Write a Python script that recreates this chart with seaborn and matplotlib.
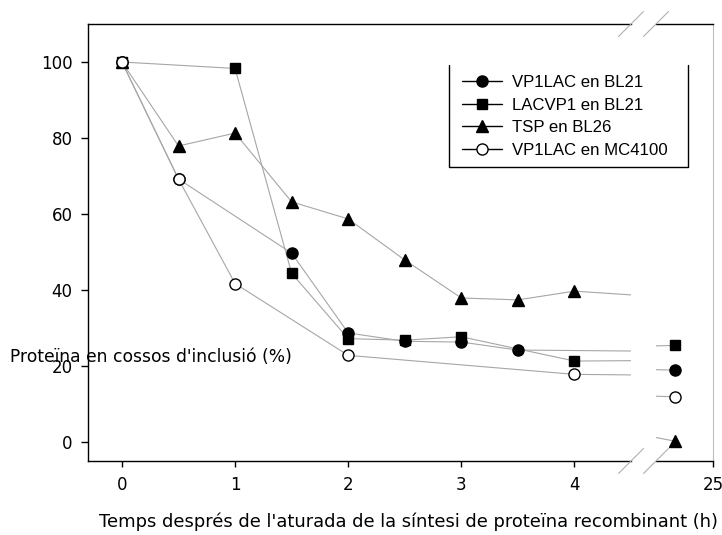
import matplotlib
matplotlib.use("Agg")
import matplotlib.pyplot as plt
from matplotlib.lines import Line2D
import numpy as np
import pandas as pd
import seaborn as sns

# ---- data -------------------------------------------------------------
series_names = ["VP1LAC en BL21", "LACVP1 en BL21", "TSP en BL26", "VP1LAC en MC4100"]

t_vp1lac_bl21 = [0, 0.5, 1.5, 2, 2.5, 3, 3.5, 24]
y_vp1lac_bl21 = [100, 69.2, 49.7, 28.7, 26.5, 26.3, 24.2, 18.9]

t_lacvp1_bl21 = [0, 1, 1.5, 2, 2.5, 3, 4, 24]
y_lacvp1_bl21 = [100, 98.3, 44.4, 27.2, 26.8, 27.7, 21.3, 25.4]

t_tsp_bl26 = [0, 0.5, 1, 1.5, 2, 2.5, 3, 3.5, 4, 24]
y_tsp_bl26 = [100, 77.9, 81.3, 63.2, 58.7, 47.9, 37.9, 37.4, 39.7, 0.2]

t_vp1lac_mc4100 = [0, 0.5, 1, 2, 4, 24]
y_vp1lac_mc4100 = [100, 69.2, 41.7, 22.8, 17.8, 11.9]

x_ticks_left = [0, 1, 2, 3, 4]
x_ticks_right = [25]
y_ticks = [0, 20, 40, 60, 80, 100]

ylabel_text = "Proteïna en cossos d'inclusió (%)"
xlabel_text = "Temps després de l'aturada de la síntesi de proteïna recombinant (h)"

# ---- style ------------------------------------------------------------
sns.set_style("ticks")
plt.rcParams["font.family"] = ["DejaVu Sans"]
plt.rcParams["font.size"] = 12
plt.rcParams["text.color"] = "black"
plt.rcParams["axes.labelcolor"] = "black"
plt.rcParams["xtick.color"] = "black"
plt.rcParams["ytick.color"] = "black"

W, H = 722, 535
fig = plt.figure(figsize=(W / 100, H / 100), dpi=100)


def fx(px):
    return px / W


def fy(py):
    return 1 - py / H


left_px, break_l, break_r, right_px = 88, 631, 656, 713
top_px, bot_px = 24, 461

ax1 = fig.add_axes([fx(left_px), fy(bot_px), fx(break_l - left_px), (bot_px - top_px) / H])
ax2 = fig.add_axes([fx(break_r), fy(bot_px), fx(right_px - break_r), (bot_px - top_px) / H],
                   sharey=ax1)

frames = []
for name, t, y in [(series_names[0], t_vp1lac_bl21, y_vp1lac_bl21),
                   (series_names[1], t_lacvp1_bl21, y_lacvp1_bl21),
                   (series_names[2], t_tsp_bl26, y_tsp_bl26),
                   (series_names[3], t_vp1lac_mc4100, y_vp1lac_mc4100)]:
    frames.append(pd.DataFrame({"serie": name, "temps": t, "proteina": y}))
df = pd.concat(frames, ignore_index=True)

marker_style = {
    series_names[0]: dict(marker="o", mfc="black", ms=8),
    series_names[1]: dict(marker="s", mfc="black", ms=7.2),
    series_names[2]: dict(marker="^", mfc="black", ms=8),
    series_names[3]: dict(marker="o", mfc="white", ms=8),
}

line_grey = "#a6a6a6"
for ax in (ax1, ax2):
    # connecting lines first, markers on top
    for name in series_names:
        sub = df[df["serie"] == name]
        sns.lineplot(data=sub, x="temps", y="proteina", ax=ax, estimator=None,
                     sort=False, color=line_grey, lw=0.8, zorder=2, legend=False)
    for i, name in enumerate(series_names):
        sub = df[df["serie"] == name]
        st = marker_style[name]
        sns.lineplot(data=sub, x="temps", y="proteina", ax=ax, estimator=None,
                     sort=False, linestyle="none", marker=st["marker"],
                     markersize=st["ms"], markerfacecolor=st["mfc"],
                     markeredgecolor="black", markeredgewidth=1.0,
                     zorder=3 + i, legend=False)

ax1.set_xlim(-0.3, 4.5)
ax2.set_xlim(23.5, 25)
ax1.set_ylim(-5, 110)

for ax in (ax1, ax2):
    ax.set_xlabel("")
    ax.set_ylabel("")
    for s in ax.spines.values():
        s.set_linewidth(1.0)
        s.set_color("black")

ax1.spines["right"].set_visible(False)
ax2.spines["left"].set_visible(False)
ax2.spines["right"].set_color("#bdbdbd")
ax2.spines["right"].set_linewidth(0.8)

ax1.set_xticks(x_ticks_left)
ax1.set_xticklabels([str(v) for v in x_ticks_left])
ax1.set_yticks(y_ticks)
ax1.set_yticklabels([str(v) for v in y_ticks])
ax2.set_xticks(x_ticks_right)
ax2.set_xticklabels([str(v) for v in x_ticks_right])
ax2.tick_params(axis="y", left=False, labelleft=False, right=False)

for ax in (ax1, ax2):
    ax.tick_params(axis="x", direction="out", length=4, width=1.0, pad=7,
                   labelsize=12, colors="black")
ax1.tick_params(axis="y", direction="out", length=5, width=1.0, pad=6,
                labelsize=12, colors="black")

# break marks on top and bottom axis lines
for ybp in (top_px, bot_px):
    for xbp in (break_l, break_r):
        fig.add_artist(Line2D([fx(xbp - 12.5), fx(xbp + 12.5)],
                              [fy(ybp + 12.5), fy(ybp - 12.5)],
                              transform=fig.transFigure, color="#b0b0b0", lw=0.8))

# legend (frame drawn as three sides)
handles = [
    Line2D([], [], color="black", lw=1.0, marker="o", ms=8, mfc="black", mec="black"),
    Line2D([], [], color="black", lw=1.0, marker="s", ms=7.2, mfc="black", mec="black"),
    Line2D([], [], color="black", lw=1.0, marker="^", ms=8, mfc="black", mec="black"),
    Line2D([], [], color="black", lw=1.0, marker="o", ms=8, mfc="white", mec="black"),
]
leg = fig.legend(handles, series_names, loc="upper left",
                 bbox_to_anchor=(fx(462), fy(75)), bbox_transform=fig.transFigure,
                 frameon=False, borderpad=0, borderaxespad=0, handlelength=2.4,
                 handletextpad=0.6, labelspacing=0.45,
                 prop={"family": "Liberation Sans", "size": 12.1})
leg.set_zorder(10)

box_l, box_r, box_t, box_b = 449, 688, 65, 167
fig.add_artist(Line2D([fx(box_l), fx(box_l), fx(box_r), fx(box_r)],
                      [fy(box_t), fy(box_b), fy(box_b), fy(box_t)],
                      transform=fig.transFigure, color="black", lw=1.0))

fig.text(fx(10), fy(357), ylabel_text, ha="left", va="center", fontsize=12.35, zorder=20)
fig.text(fx(408), fy(522), xlabel_text, ha="center", va="center", fontsize=12.85)

fig.savefig("out.png", dpi=100)
